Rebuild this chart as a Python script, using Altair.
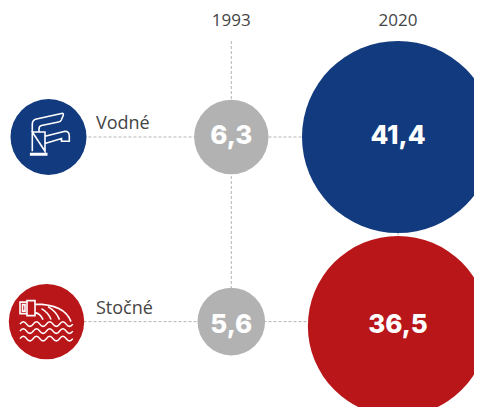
import altair as alt
import pandas as pd

# Values
rows = ["Vodné", "Stočné"]
years = ["1993", "2020"]
values_1993 = [6.3, 5.6]
values_2020 = [41.4, 36.5]
labels_1993 = ["6,3", "5,6"]
labels_2020 = ["41,4", "36,5"]
colors_2020 = ["#123a7e", "#b9161a"]
GREY = "#b2b2b2"
LINE = "#b5b5b5"
TEXT = "#444444"

# Column / row index -> position scales (unequal spacing as in the reference)
COL = {"icon": 0, "1993": 1, "2020": 2}
ROW = {"header": 0, "start": 1, "Vodné": 2, "Stočné": 3}
x_scale = alt.Scale(domain=[0, 1, 2], range=[40.5, 223.3, 390], zero=False, nice=False)
y_scale = alt.Scale(domain=[0, 1, 2, 3], range=[13, 33, 129, 313.6], zero=False, nice=False)
size_scale = alt.Scale(
    domain=[0, 5.6, 6.3, 41.4],
    range=[0, 4 * 33.8**2, 4 * 37.2**2, 4 * 96**2],
    zero=False, nice=False,
)
X = alt.X("col:Q", scale=x_scale, axis=None)
Y = alt.Y("row:Q", scale=y_scale, axis=None)

# Dashed guide lines
guides = pd.DataFrame(
    [{"g": "h1", "col": c, "row": ROW["Vodné"]} for c in (0, 1, 2)]
    + [{"g": "h2", "col": c, "row": ROW["Stočné"]} for c in (0, 1, 2)]
    + [{"g": "v1", "col": 1, "row": r} for r in (1, 2, 3)]
    + [{"g": "v2", "col": 2, "row": r} for r in (2, 3)]
)
guide_layer = alt.Chart(guides).mark_line(
    color=LINE, strokeWidth=1, strokeDash=[3, 2]
).encode(x=X, y=Y, detail="g:N", order="row:Q")

# Data circles
bubbles = pd.DataFrame({
    "col": [COL["1993"]] * 2 + [COL["2020"]] * 2,
    "row": [ROW[r] for r in rows] * 2,
    "value": values_1993 + values_2020,
    "label": labels_1993 + labels_2020,
    "fill": [GREY, GREY] + colors_2020,
})
size = alt.Size("value:Q", scale=size_scale, legend=None)
fill = alt.Color("fill:N", scale=None)
upper = bubbles[bubbles["value"] != values_2020[1]]
lower = bubbles[bubbles["value"] == values_2020[1]]
circles = alt.Chart(upper).mark_circle(opacity=1).encode(x=X, y=Y, size=size, color=fill)
circle_red = alt.Chart(lower).mark_circle(opacity=1, yOffset=4.5).encode(x=X, y=Y, size=size, color=fill)

value_style = dict(font="Inter", fontWeight=800, fontSize=26, color="white", baseline="middle")
text_top = alt.Chart(bubbles[bubbles["row"] == ROW["Vodné"]]).mark_text(dy=-1.5, **value_style).encode(x=X, y=Y, text="label:N")
text_bottom = alt.Chart(bubbles[bubbles["row"] == ROW["Stočné"]]).mark_text(dy=3, **value_style).encode(x=X, y=Y, text="label:N")

# Year headers
head = pd.DataFrame({"col": [COL[y] for y in years], "row": ROW["header"], "label": years})
head_text = alt.Chart(head).mark_text(
    font="Open Sans", fontSize=17, color=TEXT, baseline="middle"
).encode(x=X, y=Y, text="label:N")

# Row names
names = pd.DataFrame({"col": COL["icon"], "row": [ROW[r] for r in rows], "label": rows})
name_text = alt.Chart(names).mark_text(
    font="Open Sans", fontSize=18, color=TEXT, baseline="middle", align="left", dx=47.5, dy=-13
).encode(x=X, y=Y, text="label:N")

# Icons
blue_icon = alt.Chart(pd.DataFrame({"col": [0], "row": [ROW["Vodné"]]}))
red_icon = alt.Chart(pd.DataFrame({"col": [0], "row": [ROW["Stočné"]]}))
FAUCET = (
    "M-16.2 14.3 L-16.2 -13 Q-16.2 -17 -12 -18 L13 -23.5 Q15.5 -24 14.7 -21.5 L12.8 -17 Q12 -15.3 10 -15 "
    "L-7 -11.5 Q-9.5 -11 -9.5 -8 L-9.5 -5 "
    "M-16.2 -5 L-3.5 -5 L-3.5 14.3 Z "
    "M-3.5 -0.7 L16.5 -5.7 Q20.8 -5.7 20.8 -1 L20.8 4.3 L13 4.3 L13 1.5 L-3.5 6.5 "
    "M-17.8 16.5 L-1.8 16.5 L-1.8 18 L-17.8 18 Z "
)
def wave(y):
    return f"M-26.5 {y} q3.3 -4.6 6.6 0 t6.6 0 t6.6 0 t6.6 0 t6.6 0 t6.6 0 t6.6 0 t6.6 0 "
SEWER = (
    "M-19.5 -19.5 L-26.5 -19.5 L-26.5 -8 L-19.5 -8 "
    "M-19.5 -21 L-11.5 -21 L-11.5 -6 L-19.5 -6 Z "
    "M-24 -17 L-21.5 -17 L-21.5 -10.5 L-24 -10.5 Z "
    "M-11.5 -17.5 Q18 -17.5 24.5 0 "
    "M-11.5 -9 Q-6 -8 -3.5 -2 "
    "M-5 -13 Q2 -9 4.5 -2 "
    "M1.5 -15 Q10 -10 13 -2 "
    + wave(2.5) + wave(9.5) + wave(17)
)
circ_b = blue_icon.mark_circle(opacity=1, color=colors_2020[0], size=4 * 38**2).encode(x=X, y=Y)
circ_r = red_icon.mark_circle(opacity=1, color=colors_2020[1], size=4 * 37.7**2, xOffset=-2).encode(x=X, y=Y)
sym_b = blue_icon.mark_point(shape=FAUCET, size=4, filled=False, stroke="white", strokeWidth=1.6, opacity=1).encode(x=X, y=Y)
sym_r = red_icon.mark_point(shape=SEWER, size=4, filled=False, stroke="white", strokeWidth=1.6, opacity=1, xOffset=-2).encode(x=X, y=Y)

chart = alt.layer(
    guide_layer, circles, circle_red, text_top, text_bottom, head_text, name_text,
    circ_b, circ_r, sym_b, sym_r,
).properties(
    width=466, height=399, padding=0,
    autosize=alt.AutoSizeParams(type="none"),
).configure_view(stroke=None)

chart.save("out.html", embed_options={"renderer": "svg", "actions": False})
